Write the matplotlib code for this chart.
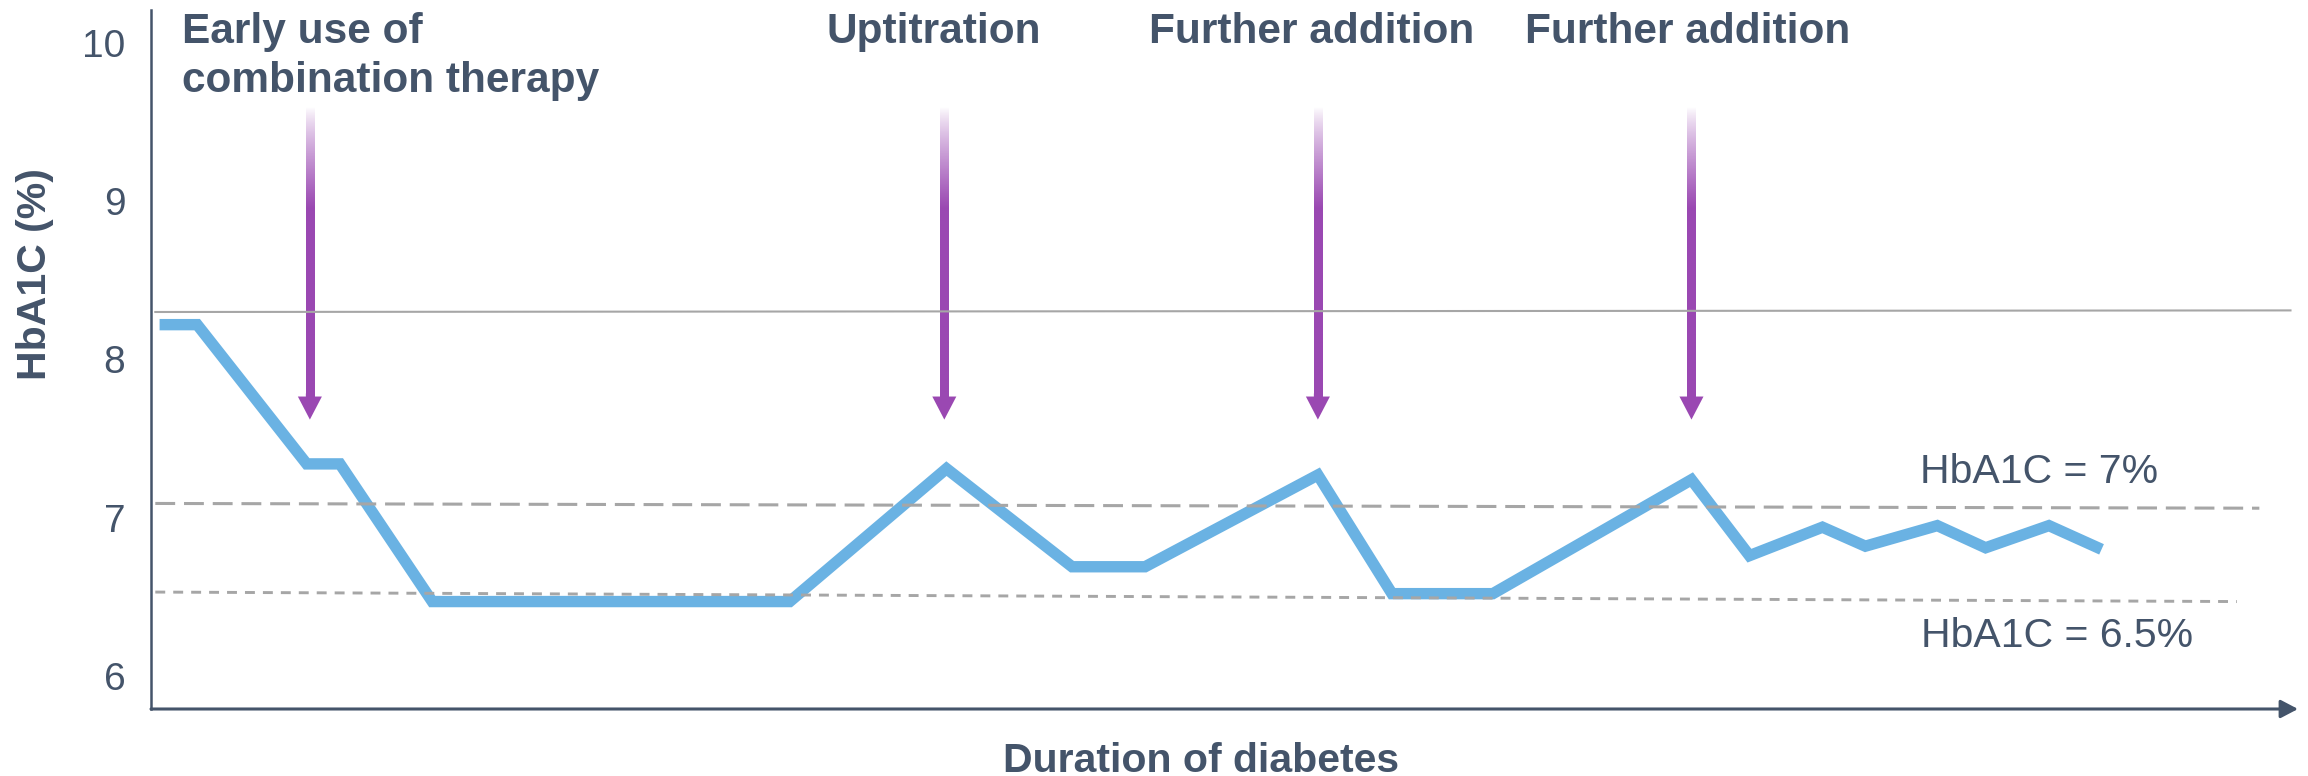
import numpy as np
import matplotlib
matplotlib.use("Agg")
import matplotlib.pyplot as plt
from matplotlib.colors import to_rgb

# ---- data ---------------------------------------------------------------
duration = [0.08, 0.43, 1.45, 1.76, 2.62, 5.95, 7.41, 8.58, 9.26, 10.87,
            11.56, 12.50, 14.35, 14.89, 15.57, 15.97, 16.64, 17.09, 17.68, 18.17]
hba1c = [8.22, 8.22, 7.34, 7.34, 6.47, 6.47, 7.31, 6.69, 6.69, 7.27,
         6.52, 6.52, 7.24, 6.76, 6.94, 6.82, 6.95, 6.81, 6.95, 6.80]

intervention_times = [1.48, 7.39, 10.87, 14.35]
intervention_labels = [["Early use of", "combination therapy"],
                       ["Uptitration"],
                       ["Further addition"],
                       ["Further addition"]]

y_ticks = [6, 7, 8, 9, 10]

# reference levels: starting value and end value of each horizontal guide
ref_start = [8.30, 7.09, 6.53]
ref_end = [8.31, 7.06, 6.47]
ref_stop = [19.93, 19.64, 19.43]
target_labels = ["HbA1C = 7%", "HbA1C = 6.5%"]

# ---- style ----------------------------------------------------------------
TEXT = "#44546A"
BLUE = "#6AB2E3"
PURPLE = "#9A48B2"
GRAY = "#A6A6A6"
FONT = "Liberation Sans"
plt.rcParams["font.family"] = [FONT, "DejaVu Sans"]

XLIM = (0, 20)
YLIM = (5.791, 10.2085)

fig = plt.figure(figsize=(23.08, 7.76), dpi=100)
ax = fig.add_axes([151 / 2308, 1 - 709 / 776, 2147 / 2308, 699 / 776])

# axes: left spine plus arrowed time axis
for side in ("top", "right", "bottom"):
    ax.spines[side].set_visible(False)
ax.spines["left"].set_color(TEXT)
ax.spines["left"].set_linewidth(1.8)
ax.annotate("", xy=(1.0, 0.0), xytext=(0.0, 0.0),
            xycoords="axes fraction", textcoords="axes fraction",
            arrowprops=dict(arrowstyle="-|>,head_length=0.42,head_width=0.22",
                            mutation_scale=25, lw=2.2, color=TEXT,
                            shrinkA=0, shrinkB=0),
            annotation_clip=False)

ax.set_xticks([])
ax.set_yticks(y_ticks)
ax.set_yticklabels([str(v) for v in y_ticks])
ax.tick_params(axis="y", length=0, pad=18.5, labelsize=28, labelcolor=TEXT)
for lab in ax.get_yticklabels():
    lab.set_fontfamily(FONT)

# HbA1c trajectory
ax.plot(duration, hba1c, color=BLUE, lw=8.2, solid_capstyle="butt",
        solid_joinstyle="miter", zorder=2)

# horizontal guides: baseline (solid), 7% (dashed), 6.5% (short dashes)
styles = [dict(ls="-", lw=1.5),
          dict(ls=(0, (6.5, 2.9)), lw=2.2),
          dict(ls=(0, (3.4, 2.75)), lw=2.1)]
for y0, y1, x1, st in zip(ref_start, ref_end, ref_stop, styles):
    ax.plot([0.04, x1], [y0, y1], color=GRAY, zorder=3,
            dash_capstyle="butt", **st)

ax.text(16.48, 7.22, target_labels[0], fontsize=29.5, color=TEXT,
        ha="left", va="baseline", family=FONT)
ax.text(16.49, 6.18, target_labels[1], fontsize=29.5, color=TEXT,
        ha="left", va="baseline", family=FONT)

# treatment-step arrows: one shaft image fading in from the top,
# finished by a solid triangular head
shaft_top, shaft_full, tip = 9.59, 8.96, 7.62
head_base = tip + 0.145
shaft_w = 0.075  # shaft width in x units (~8 px)
n_rows = 400
row_y = np.linspace(shaft_top, head_base, n_rows)
grad = np.zeros((n_rows, 1, 4))
grad[:, 0, :3] = to_rgb(PURPLE)
grad[:, 0, 3] = np.clip((shaft_top - row_y) / (shaft_top - shaft_full),
                        0, 1) ** 0.8
for t in intervention_times:
    ax.imshow(grad, extent=(t - shaft_w / 2, t + shaft_w / 2,
                            head_base - 0.01, shaft_top),
              aspect="auto", origin="upper", interpolation="bilinear",
              zorder=1.5)
    ax.annotate("", xy=(t, tip), xytext=(t, head_base + 0.02),
                arrowprops=dict(width=5.8, headwidth=17.3, headlength=16.6,
                                shrink=0, facecolor=PURPLE, edgecolor="none",
                                lw=0),
                zorder=1.6)

# step labels above the arrows
label_x = [0.29, 6.29, 9.30, 12.80]
for x, lines in zip(label_x, intervention_labels):
    for k, line in enumerate(lines):
        ax.text(x, 10.0 - 0.31 * k, line, fontsize=30.5, fontweight="bold",
                color=TEXT, ha="left", va="baseline", family=FONT,
                clip_on=False)

ax.set_xlim(*XLIM)
ax.set_ylim(*YLIM)

# axis titles
fig.text(35 / 2308, 1 - 274 / 776, "HbA1C (%)", rotation=90, fontsize=29.5,
         fontweight="bold", color=TEXT, ha="center", va="center", family=FONT)
fig.text(1201 / 2308, 1 - 772 / 776, "Duration of diabetes", fontsize=29.5,
         fontweight="bold", color=TEXT, ha="center", va="baseline", family=FONT)

fig.savefig("out.png", dpi=100, facecolor="white")
